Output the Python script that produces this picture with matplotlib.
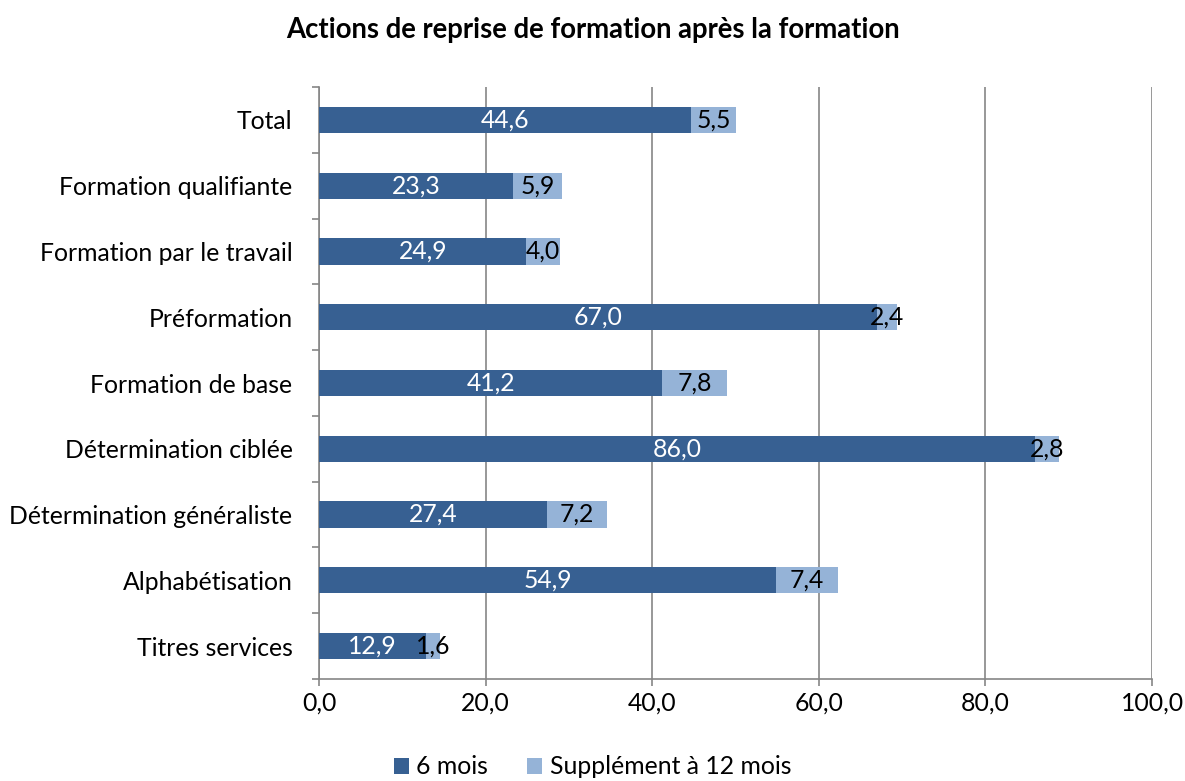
import matplotlib
matplotlib.use("Agg")
import matplotlib.pyplot as plt
import numpy as np

categories = ["Total", "Formation qualifiante", "Formation par le travail", "Préformation",
              "Formation de base", "Détermination ciblée", "Détermination généraliste",
              "Alphabétisation", "Titres services"]
six_mois = [44.6, 23.3, 24.9, 67.0, 41.2, 86.0, 27.4, 54.9, 12.9]
supplement = [5.5, 5.9, 4.0, 2.4, 7.8, 2.8, 7.2, 7.4, 1.6]
xticks = [0, 20, 40, 60, 80, 100]
title = "Actions de reprise de formation après la formation"
series_names = ["6 mois", "Supplément à 12 mois"]

plt.rcParams['font.family'] = ['Lato', 'DejaVu Sans']
fs = 17.8

fig = plt.figure(figsize=(11.85, 7.81), dpi=100)
ax = fig.add_axes([0.2692, 0.1306, 0.7030, 0.758])

c1 = "#376092"
c2 = "#95B3D7"
y = np.arange(len(categories))
h = 0.4
b1 = ax.barh(y, six_mois, height=h, color=c1, label=series_names[0], zorder=3)
b2 = ax.barh(y, supplement, left=six_mois, height=h, color=c2, label=series_names[1], zorder=3)

fmt = lambda v: f"{v:.1f}".replace(".", ",")
for yi, a, s in zip(y, six_mois, supplement):
    ax.text(a / 2, yi, fmt(a), ha="center", va="center", color="white", fontsize=fs, zorder=4)
    ax.text(a + s / 2, yi, fmt(s), ha="center", va="center", color="black", fontsize=fs, zorder=4)

ax.set_xlim(0, 100)
ax.set_ylim(len(categories) - 0.5, -0.5)
ax.set_xticks(xticks)
ax.set_xticklabels([fmt(v) for v in xticks], fontsize=fs)
ax.set_yticks(y)
ax.set_yticklabels(categories, fontsize=fs)
ax.set_yticks(np.arange(-0.5, len(categories), 1), minor=True)
ax.tick_params(axis="y", which="major", length=0, pad=19)
ax.tick_params(axis="y", which="minor", length=5, color="#868686", width=1.2)
ax.tick_params(axis="x", which="major", length=5, color="#868686", width=1.2, pad=4)

ax.grid(axis="x", color="#868686", linewidth=1.2, zorder=0)
for sp in ["top", "right"]:
    ax.spines[sp].set_visible(False)
for sp in ["left", "bottom"]:
    ax.spines[sp].set_color("#868686")
    ax.spines[sp].set_linewidth(1.2)

fig.text(0.5, 0.962, title, ha="center", va="center", fontsize=19.8, fontweight="bold")

fig.legend(handles=[b1, b2], labels=series_names, loc="center", bbox_to_anchor=(0.5, 0.018),
           ncol=2, frameon=False, fontsize=fs, handlelength=0.6, handleheight=0.6,
           handletextpad=0.3, columnspacing=1.6)

fig.savefig("out.png", dpi=100)
